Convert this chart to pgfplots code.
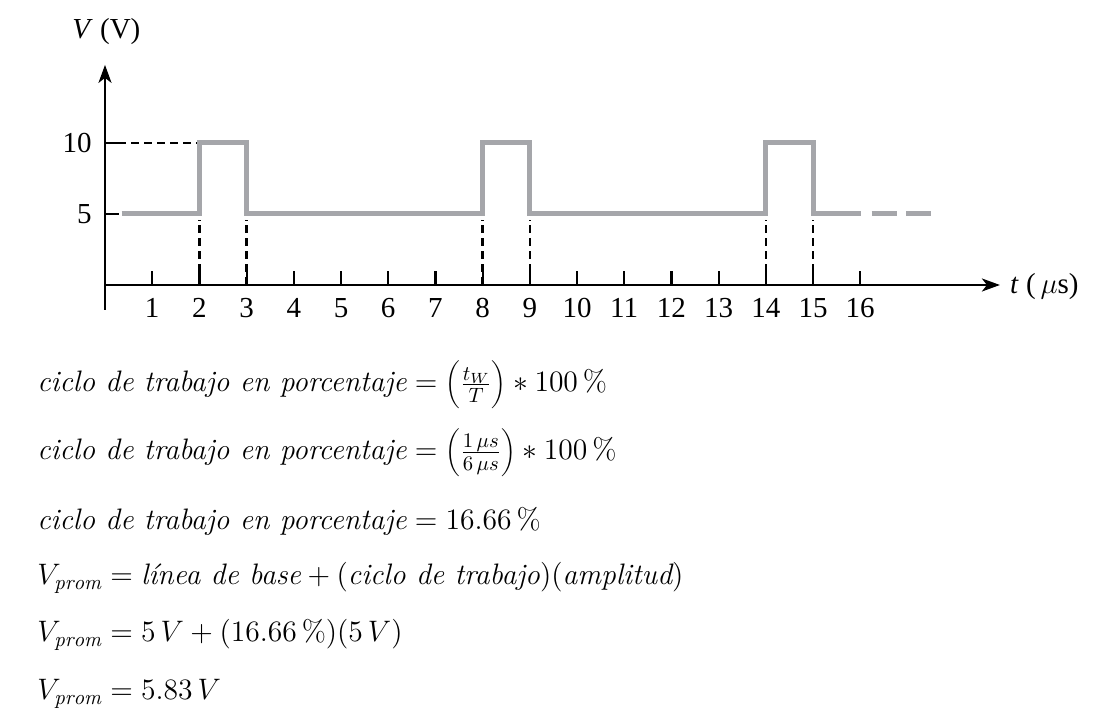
\RequirePackage{fix-cm}
\documentclass[border=0pt]{standalone}
\usepackage{fontspec}
\usepackage{pgfplots}
\pgfplotsset{compat=1.18}
\usetikzlibrary{arrows.meta}
\newfontfamily\timesf{Liberation Serif}
\definecolor{sig}{RGB}{165,166,170}
\newcommand{\cf}{\timesf\fontsize{14.5}{17}\selectfont}
\newcommand{\eqf}{\fontsize{14.8}{18}\selectfont}
\begin{document}
\begin{tikzpicture}
\path[use as bounding box] (0,0) rectangle (550.5pt,363.5pt);
\begin{axis}[
  at={(52.5pt,221pt)}, anchor=origin,
  x=23.6pt, y=7.1pt,
  xmin=0, xmax=18.96, ymin=-1.76, ymax=15.5,
  axis lines=middle, clip=false,
  axis line style={line width=1.1pt, -{Stealth[length=9pt,width=6.5pt,inset=2.5pt]}},
  xtick={1,...,16}, ytick={5,10},
  tick align=inside,
  major tick length=7pt,
  tick style={line width=1.1pt, black},
  /pgf/number format/assume math mode=true,
  xticklabel style={font=\cf, inner sep=0pt, anchor=north, yshift=-6.5pt},
  yticklabel style={font=\cf, inner sep=0pt, anchor=east, xshift=-6.5pt},
  xlabel={\cf\textit{t}\ (\,$\mu$s)},
  ylabel={\cf\textit{V} (V)},
  every axis x label/.style={at={(axis cs:19.17,-0.63)}, anchor=base west, inner sep=0pt},
  every axis y label/.style={at={(axis cs:-0.70,17.39)}, anchor=base west, inner sep=0pt},
]
\addplot[black, line width=1.2pt, dash pattern=on 4pt off 2.5pt] coordinates {(2,0) (2,4.6)};
\addplot[black, line width=1.2pt, dash pattern=on 4pt off 2.5pt] coordinates {(3,0) (3,4.6)};
\addplot[black, line width=1.2pt, dash pattern=on 4pt off 2.5pt] coordinates {(8,0) (8,4.6)};
\addplot[black, line width=1.2pt, dash pattern=on 4pt off 2.5pt] coordinates {(9,0) (9,4.6)};
\addplot[black, line width=1.2pt, dash pattern=on 4pt off 2.5pt] coordinates {(14,0) (14,4.6)};
\addplot[black, line width=1.2pt, dash pattern=on 4pt off 2.5pt] coordinates {(15,0) (15,4.6)};
\addplot[black, line width=1.2pt, dash pattern=on 4pt off 2.5pt] coordinates {(0,10) (2,10)};
\addplot[sig, line width=2.5pt, line join=miter, line cap=butt] coordinates {
  (0.35,5) (2,5) (2,10) (3,10) (3,5) (8,5) (8,10) (9,10) (9,5)
  (14,5) (14,10) (15,10) (15,5) (16.02,5)};
\addplot[sig, line width=2.5pt, line cap=butt] coordinates {(16.24,5) (16.77,5)};
\addplot[sig, line width=2.5pt, line cap=butt] coordinates {(16.98,5) (17.51,5)};
\end{axis}
\node[anchor=base west, inner sep=0pt] at (18.5pt,167.5pt) {\eqf $\textit{ciclo de trabajo en porcentaje} = \biggl(\frac{t_W}{T}\biggr) \ast 100\,\%$};
\node[anchor=base west, inner sep=0pt] at (18.5pt,133.5pt) {\eqf $\textit{ciclo de trabajo en porcentaje} = \biggl(\frac{1\,\mu s}{6\,\mu s}\biggr) \ast 100\,\%$};
\node[anchor=base west, inner sep=0pt] at (18.5pt,98.5pt) {\eqf $\textit{ciclo de trabajo en porcentaje} = 16.66\,\%$};
\node[anchor=base west, inner sep=0pt] at (18.5pt,71pt) {\eqf $V_{\mathit{prom}} = \textit{línea de base} + (\textit{ciclo de trabajo})(\textit{amplitud})$};
\node[anchor=base west, inner sep=0pt] at (18.5pt,42.5pt) {\eqf $V_{\mathit{prom}} = 5\,V + (16.66\,\%)(5\,V)$};
\node[anchor=base west, inner sep=0pt] at (18.5pt,13.5pt) {\eqf $V_{\mathit{prom}} = 5.83\,V$};
\end{tikzpicture}
\end{document}
